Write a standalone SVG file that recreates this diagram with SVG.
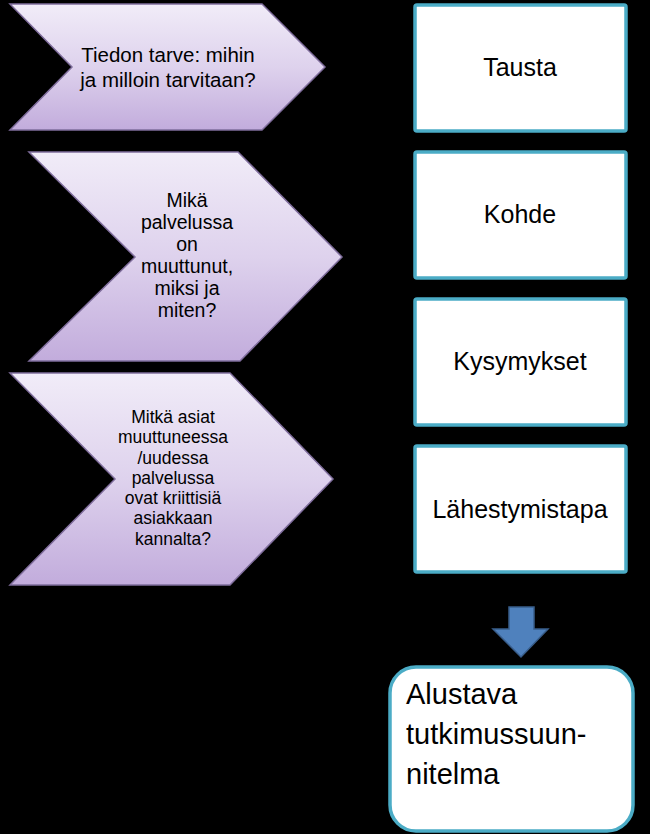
<svg xmlns="http://www.w3.org/2000/svg" width="650" height="834" viewBox="0 0 650 834">
<defs>
<linearGradient id="purp" x1="0" y1="0" x2="0" y2="1">
<stop offset="0" stop-color="#f1ecf8"/>
<stop offset="0.5" stop-color="#ded2ed"/>
<stop offset="1" stop-color="#c2acdc"/>
</linearGradient>
<style>
.chev{fill:url(#purp);stroke:#7f6d9c;stroke-width:1.5;stroke-linejoin:miter}
.box{fill:#ffffff;stroke:#4bacc6;stroke-width:3.5}
.t{font-family:"Liberation Sans",Arial,sans-serif;fill:#000;text-anchor:middle}
.big{font-size:25px}
</style>
</defs>
<rect x="0" y="0" width="650" height="834" fill="#000"/>
<g id="chevron1">
<polygon class="chev" points="10,4 262,4 325,67 262,130 10,130 72,67"/>
<text class="t" x="168" y="62" font-size="20.5">Tiedon tarve: mihin</text>
<text class="t" x="168" y="87" font-size="20.5">ja milloin tarvitaan?</text>
</g>
<g id="chevron2">
<polygon class="chev" points="29,152 238,152 342,257 240,361 29,361 135,257"/>
<text class="t" font-size="19.5"><tspan x="187" y="207">Mikä</tspan><tspan x="187" y="229">palvelussa</tspan><tspan x="187" y="251">on</tspan><tspan x="187" y="273">muuttunut,</tspan><tspan x="187" y="295">miksi ja</tspan><tspan x="187" y="317">miten?</tspan></text>
</g>
<g id="chevron3">
<polygon class="chev" points="10,373 230,373 333,479 230,585 10,585 115,479"/>
<text class="t" font-size="17.5"><tspan x="173" y="423">Mitkä asiat</tspan><tspan x="173" y="443">muuttuneessa</tspan><tspan x="173" y="464">/uudessa</tspan><tspan x="173" y="484">palvelussa</tspan><tspan x="173" y="504">ovat kriittisiä</tspan><tspan x="173" y="524">asiakkaan</tspan><tspan x="173" y="545">kannalta?</tspan></text>
</g>
<g id="tausta">
<rect class="box" x="415" y="5" width="211" height="126" rx="2"/>
<text class="t big" x="520" y="76">Tausta</text>
</g>
<g id="kohde">
<rect class="box" x="415" y="152" width="211" height="126" rx="2"/>
<text class="t big" x="520" y="223">Kohde</text>
</g>
<g id="kysymykset">
<rect class="box" x="415" y="299" width="211" height="126" rx="2"/>
<text class="t big" x="520" y="370">Kysymykset</text>
</g>
<g id="lahestymistapa">
<rect class="box" x="415" y="446" width="211" height="126" rx="2"/>
<text class="t big" x="520" y="518">Lähestymistapa</text>
</g>
<g id="connectors">
<polygon points="509,607 534,607 534,629 548,629 521,657 493,629 509,629" fill="#4f81bd" stroke="#385d8a" stroke-width="1.5"/>
</g>
<g id="alustava">
<rect class="box" x="390" y="667" width="243" height="164" rx="26"/>
<text font-family="Liberation Sans,Arial,sans-serif" font-size="29" fill="#000"><tspan x="406" y="704">Alustava</tspan><tspan x="406" y="744">tutkimussuun-</tspan><tspan x="406" y="784">nitelma</tspan></text>
</g>
</svg>
